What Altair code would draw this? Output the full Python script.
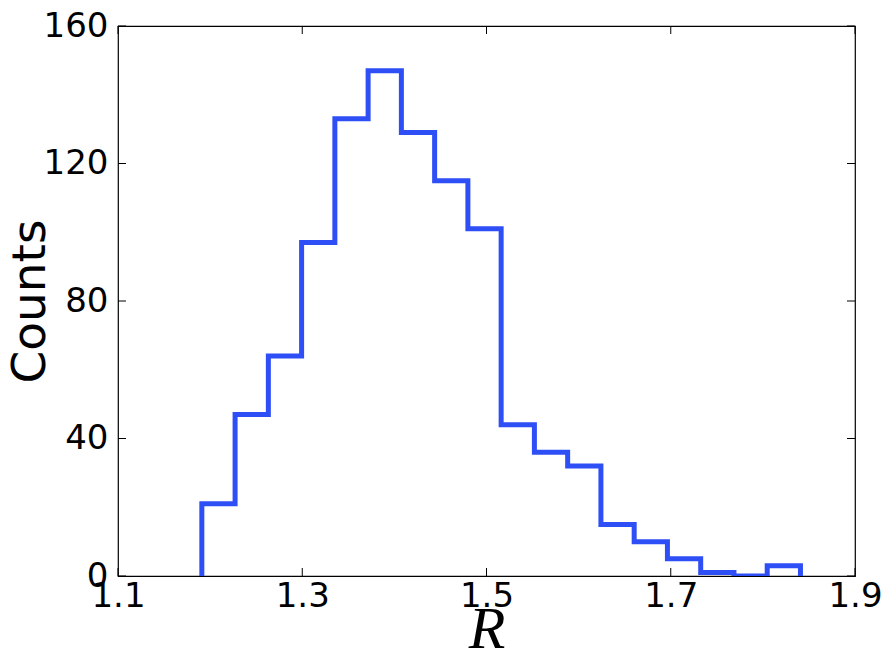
import altair as alt
import pandas as pd

# Histogram bin edges (R) and counts
bin_edges = [1.191, 1.2271, 1.2632, 1.2993, 1.3354, 1.3715, 1.4076, 1.4437, 1.4798,
             1.5159, 1.552, 1.5881, 1.6242, 1.6603, 1.6964, 1.7325, 1.7686, 1.8047, 1.8408]
counts = [21, 47, 64, 97, 133, 147, 129, 115, 101, 44, 36, 32, 15, 10, 5, 1, 0, 3]

x_ticks = [1.1, 1.3, 1.5, 1.7, 1.9]
y_ticks = [0, 40, 80, 120, 160]

W, H = 737, 550
TICK = 8

# step outline points: up from zero at first edge, step through counts, down at last edge
rows = [{"R": bin_edges[0], "c": 0, "o": 0}]
for i, c in enumerate(counts):
    rows.append({"R": bin_edges[i], "c": c, "o": i + 1})
rows.append({"R": bin_edges[-1], "c": 0, "o": len(counts) + 1})
df = pd.DataFrame(rows)

xscale = alt.Scale(domain=[1.1, 1.9], nice=False, zero=False)
yscale = alt.Scale(domain=[0, 160], nice=False, zero=False)

xaxis = alt.Axis(
    values=x_ticks, format=".1f", ticks=False, domain=False, grid=False,
    labelFont="DejaVu Sans", labelFontSize=34, labelColor="black", labelPadding=3,
    labelFlush=False, labelOverlap=False,
    title="R", titleFont="Liberation Serif", titleFontStyle="italic",
    titleFontWeight="normal", titleFontSize=60, titleColor="black",
    titleBaseline="alphabetic", titleY=71)
yaxis = alt.Axis(
    values=y_ticks, ticks=False, domain=False, grid=False,
    labelFont="DejaVu Sans", labelFontSize=34, labelColor="black", labelPadding=10,
    labelFlush=False, labelOverlap=False,
    title="Counts", titleFont="DejaVu Sans", titleFontWeight="normal",
    titleFontSize=47, titleColor="black", titleBaseline="middle", titleX=-88)

line = alt.Chart(df).mark_line(
    interpolate="step-after", color="#2f4ff6", strokeWidth=5, strokeJoin="miter", clip=True
).encode(
    x=alt.X("R:Q", scale=xscale, axis=xaxis),
    y=alt.Y("c:Q", scale=yscale, axis=yaxis),
    order="o:Q",
)

xt = pd.DataFrame({"R": x_ticks})
yt = pd.DataFrame({"c": y_ticks})
tick_style = dict(color="black", strokeWidth=1)

bx = alt.Chart(xt).mark_rule(**tick_style).encode(
    x=alt.X("R:Q", scale=xscale, axis=xaxis), y=alt.value(H), y2=alt.value(H - TICK))
tx = alt.Chart(xt).mark_rule(**tick_style).encode(
    x=alt.X("R:Q", scale=xscale, axis=xaxis), y=alt.value(0), y2=alt.value(TICK))
ly = alt.Chart(yt).mark_rule(**tick_style).encode(
    y=alt.Y("c:Q", scale=yscale, axis=yaxis), x=alt.value(0), x2=alt.value(TICK))
ry = alt.Chart(yt).mark_rule(**tick_style).encode(
    y=alt.Y("c:Q", scale=yscale, axis=yaxis), x=alt.value(W), x2=alt.value(W - TICK))

chart = alt.layer(line, bx, tx, ly, ry).properties(
    width=W, height=H,
    autosize=alt.AutoSizeParams(type="none"),
    padding={"left": 110, "top": 18, "right": 28, "bottom": 76},
    background="white",
).configure_view(stroke="black", strokeWidth=1.2)

chart.save("out.html", embed_options={"renderer": "svg", "actions": False})
